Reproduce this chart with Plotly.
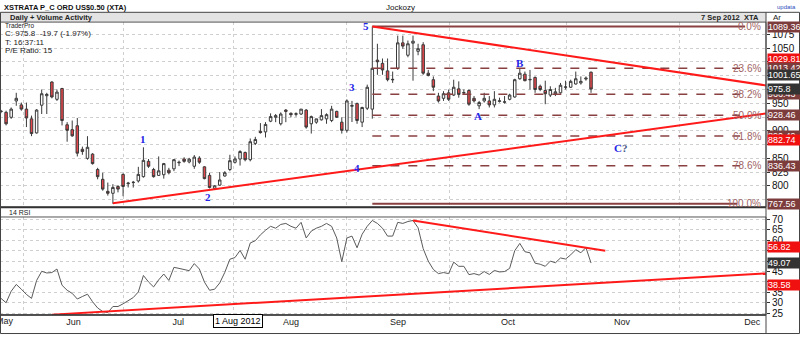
import plotly.graph_objects as go

W, H = 800, 339

# ---------------- data ----------------
day_index = list(range(117))
opens = [936, 933.5, 924.6, 954.3, 947.1, 939.4, 921.7, 896.2, 946.5, 963.7,
         988.6, 957.2, 976.8, 911, 902.1, 909.2, 866.5, 850, 857.7, 829.8,
         812, 790.1, 786.6, 799, 820.9, 804, 806, 809, 816.8, 844.6,
         829.8, 819.1, 820.3, 828.6, 831, 842, 848.8, 843.5, 835.7, 850.5,
         834.6, 819.1, 795.4, 801.4, 818, 829.8, 842.9, 848.8, 860.6, 847.6,
         877.2, 899.1, 898, 917.5, 924.6, 912.8, 937.7, 931.7, 930, 930.5,
         937.7, 912.8, 915.7, 919.9, 921.7, 918.7, 935.3, 915.7, 900.9, 944.5,
         949.5, 915.7, 941, 939.4, 1028.3, 1022.4, 1008.8, 993.5, 1013.5, 1059.7,
         1037.2, 1059.1, 1044.3, 1056.2, 1004.6, 992.8, 963.1, 959, 969, 964.9,
         976.2, 969.5, 973.2, 959, 945.4, 954.3, 954.3, 947.1, 953.5, 952,
         957.2, 961.4, 994.5, 1002.8, 993.4, 996.9, 980.9, 973.2, 964.9, 967.3,
         969, 979.1, 979.1, 985, 986.9, 994, 1006.4]
highs = [938, 936.5, 942.4, 969, 951.3, 951.3, 927.6, 939.4, 975, 969,
         989.8, 975, 978, 915.7, 918.7, 923.4, 871.3, 890.3, 859.4, 832.8,
         823.9, 806.1, 803.1, 801.4, 822.7, 807.3, 809, 834.6, 870.1, 848.8,
         832.8, 853.5, 841.7, 832.8, 848.8, 846, 852, 851, 856, 854,
         835.7, 823.9, 801.4, 825.2, 826.8, 856.5, 853.5, 864.8, 862.4, 886.1,
         889.1, 914, 915.7, 931.7, 930.5, 933.5, 939.4, 933.5, 933.5, 939.4,
         939.4, 927.6, 921.7, 939.4, 931.7, 945.4, 936.5, 924.6, 957.2, 954.3,
         951.3, 943.6, 983.9, 1089.36, 1058, 1031.3, 1031.3, 1007.6, 1072.8, 1072.8,
         1063.9, 1072.8, 1058, 1060.9, 1010.5, 998.7, 969, 972, 975, 992.8,
         989.8, 975, 975, 963.1, 954.3, 969, 963.1, 972, 960.2, 963.1,
         967.3, 994.5, 1013.5, 1007.6, 1010.5, 998.7, 983.9, 991, 980.9, 978,
         986.9, 991, 992.8, 1007.6, 998.7, 998.7, 1007.6]
lows = [932, 909.8, 921.7, 945.4, 936.5, 906.8, 890.3, 895, 930.5, 930.5,
        959, 954.3, 909.8, 880.2, 889.1, 853.5, 856.5, 847.6, 838.7, 812,
        791.3, 782.4, 767.56, 788.3, 781.2, 797.2, 797, 806.1, 815, 832.8,
        815, 818, 813.2, 820.9, 826.8, 836, 842, 841, 831, 840,
        812, 795.4, 793, 800.2, 816.8, 826.8, 840.5, 836.9, 844.6, 844.6,
        874.2, 895, 887.9, 915.7, 915.7, 909.8, 915.7, 924.6, 925.8, 928.8,
        903.9, 895, 912.8, 918.7, 912.8, 915.7, 923.4, 895, 897, 916,
        912.8, 906.8, 937.7, 922, 1001.7, 1001.7, 989.8, 986.9, 1010.5, 1049,
        1033.5, 991, 1037.2, 1001.7, 998.7, 972, 951.3, 954.3, 954.3, 963.1,
        960.2, 966.1, 945.4, 951.3, 939.4, 951.3, 942.4, 942.4, 951.3, 949.5,
        955.4, 960.2, 992.8, 989.8, 975, 969, 972, 948.3, 961.4, 963.1,
        967.3, 975, 977.8, 983.9, 983.9, 991, 969]
closes = [935, 912.8, 939.4, 959, 939.4, 923.4, 895, 937.7, 967.3, 966.1,
          961.4, 970.3, 918.7, 900.9, 890.9, 859.4, 862.4, 870.1, 840.5, 816.8,
          794.2, 786.6, 797.2, 794.2, 799, 805, 806.5, 820.9, 846.4, 835.7,
          816.8, 827.4, 840.5, 823.9, 847.6, 842.8, 844.6, 848.5, 852.3, 843,
          813.2, 797.2, 800.2, 810.8, 823.9, 845.8, 848.8, 862.4, 847.6, 880.2,
          884.3, 896.8, 911.6, 925.8, 927.6, 930.5, 935.3, 929.4, 931, 939.4,
          906.8, 925.8, 921.7, 927.6, 929.4, 939.4, 924.6, 900.9, 954.3, 946,
          918.7, 942.4, 979.1, 1013.5, 1025.4, 1010.5, 992.8, 992.8, 1059.7, 1053.8,
          1058, 1062.7, 1049.1, 1004.6, 1000.5, 979.1, 954.3, 967.3, 957.2, 979.1,
          966.1, 969, 948.3, 954.3, 951.3, 959, 947.1, 957.2, 954.3, 952.5,
          964.9, 992.8, 1004.6, 991, 992.8, 975, 975, 967.3, 975, 970.8,
          982.7, 979.6, 989.8, 994.5, 989.8, 995.5, 975.8]
rsi = [32.1, 30.0, 35.5, 38.8, 36.5, 34.0, 32.1, 40.7, 45.1, 44.3,
       44.5, 46.2, 38.4, 36.0, 34.5, 31.8, 33.0, 34.1, 30.5, 27.5,
       25.8, 25.3, 28.2, 28.2, 29.5, 31.0, 32.5, 35.2, 43.1, 40.0,
       37.6, 41.0, 43.8, 40.7, 47.0, 46.5, 46.0, 45.4, 48.8, 46.2,
       39.9, 36.0, 36.5, 39.5, 44.6, 50.9, 51.7, 55.1, 50.9, 58.7,
       59.8, 62.6, 64.8, 66.7, 65.8, 67.6, 68.1, 66.7, 65.8, 68.6,
       61.1, 64.4, 65.8, 66.7, 68.1, 66.7, 61.1, 49.7, 61.1, 62.0,
       56.4, 62.9, 66.7, 69.5, 68.1, 65.8, 62.0, 62.0, 68.6, 68.1,
       69.0, 69.5, 66.0, 56.0, 50.0, 46.0, 44.0, 44.5, 44.0, 49.5,
       47.5, 47.5, 43.5, 44.0, 43.3, 45.0, 43.6, 45.5, 44.8, 45.0,
       46.5, 55.0, 58.5, 54.5, 54.0, 49.0, 48.5, 47.5, 50.0, 49.2,
       51.5, 51.0, 53.0, 55.5, 54.0, 56.5, 49.07]

month_labels = ["Jun", "Jul", "Aug", "Sep", "Oct", "Nov", "Dec"]
month_label_pos = [14.25, 34.86, 57.0, 78.06, 99.7, 122.1, 147.7]
month_starts = [4.52, 24.05, 45.67, 67.93, 88.12, 111.23, 133.45]

price_tick_labels = [800, 825, 850, 900, 950, 1050, 1075]
rsi_tick_labels = [25, 30, 35, 45, 60, 65, 70]

fib_high, fib_low = 1089.36, 767.56
fib_pcts = [0.0, 23.6, 38.2, 50.0, 61.8, 78.6, 100.0]
fib_start = 73
fib_end = [146.3, 145.3, 145.3, 145.3, 145.3, 145.3, 144.7]

price_trend_upper_x, price_trend_upper_y = [73, 150.4], [1089.36, 982.4]
price_trend_lower_x, price_trend_lower_y = [22, 150.4], [768.5, 931.5]
rsi_trend_upper_x, rsi_trend_upper_y = [81, 118.8], [69.5, 55.0]
rsi_trend_lower_x, rsi_trend_lower_y = [10, 150.4], [24.3, 44.1]

wave_text = ["5", "3", "4", "1", "2", "A", "B", "C<span style='color:#4a5a8a'>?</span>"]
wave_x = [71.8, 69.0, 70.0, 27.9, 40.7, 93.8, 102.0, 121.7]
wave_y = [1090.5, 979.7, 833.4, 884.9, 779.5, 927.6, 1022.3, 869.4]

BROWN, RED, GRAY = "#7d3c3c", "#f01010", "#333333"
price_tags = ["1089.36", "1029.81", "1013.42", "1001.65", "966.43", "975.8",
              "928.46", "890.49", "882.74", "836.43", "767.56"]
price_tag_cols = [BROWN, RED, BROWN, GRAY, BROWN, GRAY, BROWN, BROWN, RED, BROWN, BROWN]
rsi_tags = ["56.82", "49.07", "38.58"]
rsi_tag_cols = [RED, GRAY, RED]


def px(x):
    return x / W


def py(y):
    return 1 - y / H


XR = [-0.197, 150.4]
FONT = "Arial, Liberation Sans, sans-serif"

fig = go.Figure()

fig.add_trace(go.Candlestick(
    x=day_index, open=opens, high=highs, low=lows, close=closes,
    increasing=dict(line=dict(color="#3a3a3a", width=1), fillcolor="#ffffff"),
    decreasing=dict(line=dict(color="#3a3a3a", width=1), fillcolor="#e4474b"),
    whiskerwidth=0, hoverinfo="skip", xaxis="x", yaxis="y"))

# fibonacci levels
fib_rng = fib_high - fib_low
for p, e in zip(fib_pcts, fib_end):
    lvl = fib_high - fib_rng * p / 100.0
    solid = p in (0.0, 100.0)
    fig.add_trace(go.Scatter(
        x=[fib_start, e], y=[lvl, lvl], mode="lines", hoverinfo="skip",
        line=dict(color="#8a4040", width=2 if solid else 1.5,
                  dash="solid" if solid else "dash"),
        xaxis="x", yaxis="y"))

for tx, ty in [(price_trend_upper_x, price_trend_upper_y), (price_trend_lower_x, price_trend_lower_y)]:
    fig.add_trace(go.Scatter(x=tx, y=ty, mode="lines", hoverinfo="skip",
                             line=dict(color="#ff1a1a", width=2), xaxis="x", yaxis="y"))

fig.add_trace(go.Scatter(x=day_index, y=rsi, mode="lines", hoverinfo="skip",
                         line=dict(color="#5a5a5a", width=1), xaxis="x2", yaxis="y2"))
for tx, ty in [(rsi_trend_upper_x, rsi_trend_upper_y), (rsi_trend_lower_x, rsi_trend_lower_y)]:
    fig.add_trace(go.Scatter(x=tx, y=ty, mode="lines", hoverinfo="skip",
                             line=dict(color="#ff1a1a", width=2), xaxis="x2", yaxis="y2"))

GRIDC = "#cfcfcf"

fig.update_layout(
    width=W, height=H, margin=dict(l=0, r=0, t=0, b=0),
    paper_bgcolor="white", plot_bgcolor="white", showlegend=False,
    hovermode=False, font=dict(family=FONT, size=10, color="#111"),
    xaxis=dict(domain=[0, px(766)], anchor="y", range=XR, rangeslider=dict(visible=False),
               tickmode="array", tickvals=month_starts, showticklabels=False, ticks="",
               zeroline=False, showgrid=True, gridcolor=GRIDC, griddash="dot"),
    yaxis=dict(domain=[py(208.5), py(19.5)], anchor="x", side="right",
               range=[761.36, 1097.36], tickmode="array", tickvals=price_tick_labels,
               ticks="outside", ticklen=3, tickcolor="#333", zeroline=False,
               tickfont=dict(size=10), showgrid=False,
               minor=dict(dtick=25, tick0=0, showgrid=True, gridcolor=GRIDC, griddash="dot",
                          ticks="outside", ticklen=3, tickcolor="#333")),
    xaxis2=dict(domain=[0, px(766)], anchor="y2", range=XR, tickmode="array",
                tickvals=month_label_pos, ticktext=month_labels, ticks="",
                showgrid=False, zeroline=False, tickfont=dict(size=9, color="#222"),
                minor=dict(tickmode="array", tickvals=month_starts, showgrid=True,
                           gridcolor=GRIDC, griddash="dot", ticks="")),
    yaxis2=dict(domain=[py(318.5), py(218.5)], anchor="x2", side="right",
                range=[24.16, 71.18], tickmode="array", tickvals=rsi_tick_labels,
                ticks="outside", ticklen=3, tickcolor="#333", zeroline=False,
                tickfont=dict(size=10), showgrid=False,
                minor=dict(dtick=5, tick0=0, showgrid=True, gridcolor=GRIDC, griddash="dot",
                           ticks="outside", ticklen=3, tickcolor="#333")),
    xaxis3=dict(domain=[0, px(766)], anchor="y3", range=XR, dtick=0.7, tick0=0,
                ticks="inside", ticklen=2, tickcolor="#444", showticklabels=False,
                showgrid=False, zeroline=False, showline=True, linecolor="#666"),
    yaxis3=dict(domain=[py(331), py(327.5)], anchor="x3", visible=False, range=[0, 1]),
)

shapes = []
# header bar
shapes.append(dict(type="rect", xref="paper", yref="paper", x0=0, x1=px(766),
                   y0=py(19.5), y1=py(9.5), fillcolor="#e3e3e3", line=dict(width=0), layer="below"))
# panel borders
for (y0, y1) in [(19.5, 208.5), (218.5, 318.5)]:
    shapes.append(dict(type="rect", xref="paper", yref="paper", x0=px(0.5), x1=px(766),
                       y0=py(y1), y1=py(y0), line=dict(color="#555", width=1)))
shapes.append(dict(type="line", xref="paper", yref="paper", x0=0, x1=px(766),
                   y0=py(208.5), y1=py(208.5), line=dict(color="#333", width=2)))
shapes.append(dict(type="line", xref="paper", yref="paper", x0=0, x1=px(766),
                   y0=py(318.5), y1=py(318.5), line=dict(color="#333", width=1.5)))
# right column separator and outer frame
shapes.append(dict(type="line", xref="paper", yref="paper", x0=px(766), x1=px(766),
                   y0=py(337.5), y1=py(9.5), line=dict(color="#444", width=1)))
shapes.append(dict(type="rect", xref="paper", yref="paper", x0=px(0.5), x1=px(799.5),
                   y0=py(337.5), y1=py(9.5), line=dict(color="#444", width=1)))
fig.update_layout(shapes=shapes)

ann = []


def text(x, y, s, size=9, bold=False, color="#111", xanchor="left", family=FONT, **kw):
    ann.append(dict(xref="paper", yref="paper", x=px(x), y=py(y), text=("<b>%s</b>" % s) if bold else s,
                    showarrow=False, xanchor=xanchor, yanchor="middle",
                    font=dict(size=size, color=color, family=family), **kw))


text(2, 4.5, "XSTRATA P_C ORD US$0.50 (XTA)", size=7.5, bold=True)
text(400, 5, "Jockozy", size=8, xanchor="center")
text(786, 4, "updata", size=6, color="#3050c0", xanchor="center")
text(8, 14.5, "Daily + Volume Activity", size=7.5, bold=True, color="#222")
text(761, 14.5, "7 Sep 2012&nbsp;&nbsp;XTA", size=7.5, bold=True, color="#222", xanchor="right")
text(771, 14.5, "Ar", size=8, color="#222")
text(3, 23, "TraderPro", size=6.5, color="#222")
text(3, 31.5, "C: 975.8&nbsp;&nbsp;-19.7 (-1.97%)", size=8, color="#222")
text(3, 40, "T: 16:37:11", size=8, color="#222")
text(3, 48.5, "P/E Ratio: 15", size=8, color="#222")
text(7, 214, "14 RSI", size=7, color="#222")
text(16, 324.5, "May", size=9, color="#222", xanchor="right")
text(238, 324.5, "1 Aug 2012", size=9, color="#000", xanchor="center",
     bgcolor="white", bordercolor="#000", borderwidth=1, borderpad=1)

# fib percentage labels
for p in fib_pcts:
    lvl = fib_high - fib_rng * p / 100.0
    ann.append(dict(xref="x", yref="y", x=149.8, y=lvl, text="%.1f%%" % p, showarrow=False,
                    xanchor="right", yanchor="middle", font=dict(size=10, color="#a06464", family=FONT)))

# wave labels
for s, wx, wy in zip(wave_text, wave_x, wave_y):
    ann.append(dict(xref="x", yref="y", x=wx, y=wy, text="<b>%s</b>" % s, showarrow=False,
                    xanchor="center", yanchor="middle",
                    font=dict(size=11, color="#2424e6", family="Liberation Serif, Times New Roman, serif")))

# value tags on right axes
for s, c in zip(price_tags, price_tag_cols):
    ann.append(dict(xref="paper", yref="y", x=px(766.5), y=float(s), text=s, showarrow=False,
                    xanchor="left", yanchor="middle", align="left", width=33, height=10,
                    bgcolor=c, borderpad=0, font=dict(size=9, color="white", family=FONT)))
for s, c in zip(rsi_tags, rsi_tag_cols):
    ann.append(dict(xref="paper", yref="y2", x=px(766.5), y=float(s), text=s, showarrow=False,
                    xanchor="left", yanchor="middle", align="left", width=33, height=10,
                    bgcolor=c, borderpad=0, font=dict(size=9, color="white", family=FONT)))

fig.update_layout(annotations=ann)
fig.write_html("out.html")
